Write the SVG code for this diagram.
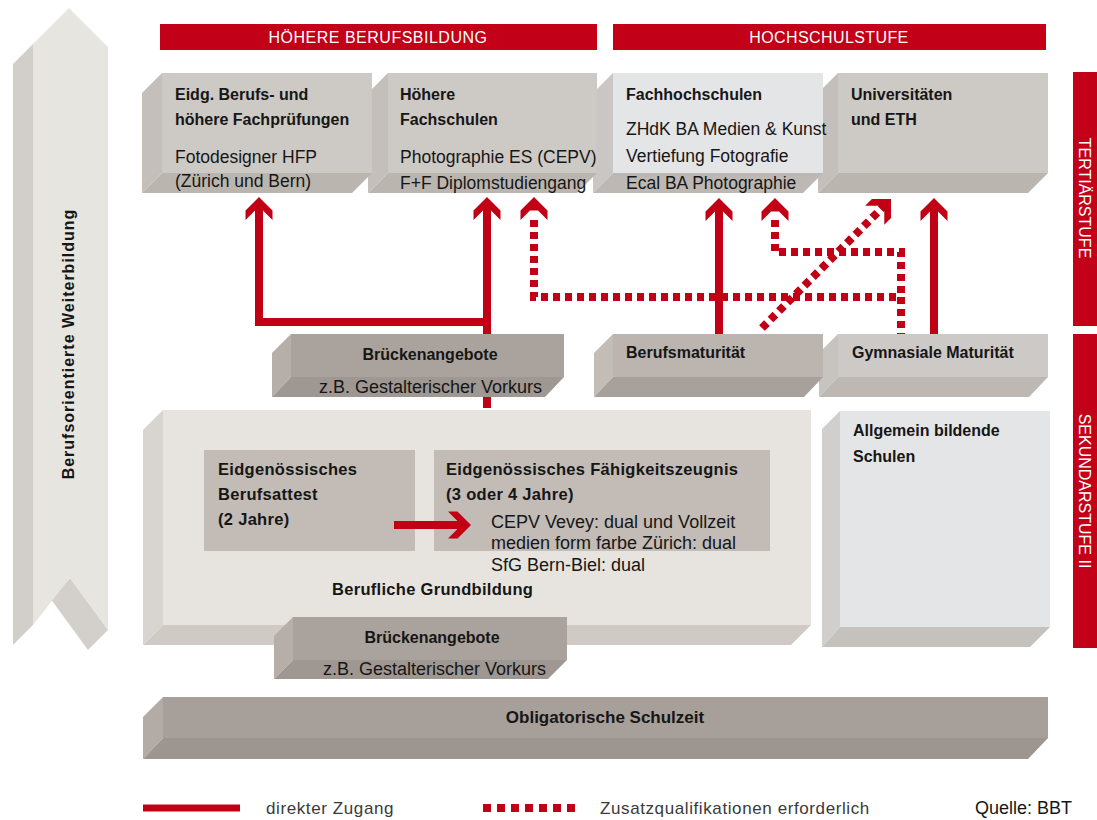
<svg xmlns="http://www.w3.org/2000/svg" xmlns:xlink="http://www.w3.org/1999/xlink" width="1097" height="820" viewBox="0 0 1097 820">
<style>
text{font-family:"Liberation Sans",Arial,sans-serif;fill:#161616}
.h{font-size:16px;font-weight:bold}
.b{font-size:16.5px;font-weight:bold;letter-spacing:0.3px}
.d{font-size:17.5px}
.z{font-size:18px}
.e{font-size:18px}
.w{fill:#ffffff;font-size:16px}
.lg{font-size:17px;fill:#3a3a3a;letter-spacing:0.6px}
.sol{fill:none;stroke:#c10016;stroke-width:8;stroke-linejoin:miter}
.dash{fill:none;stroke:#c10016;stroke-width:8;stroke-dasharray:7 5}
.head{fill:#c10016}
.bar{fill:#c20017}
</style>
<defs>
<path id="ah" d="M0,0 L13.5,13.5 L13.5,23 L4,13.5 L-4,13.5 L-13.5,23 L-13.5,13.5 Z"/>
</defs>
<rect width="1097" height="820" fill="#ffffff"/>

<g id="side-arrow">
<polygon points="50,598 70,578 108,630 88,650" fill="#d3d0cb"/>
<polygon points="33,44 13,64 13,645 33,625" fill="#d2cfca"/>
<polygon points="69,8 108,47 108,630 70,578 33,625 33,44" fill="#e7e5e0"/>
<text transform="translate(74,344) rotate(-90)" text-anchor="middle" style="font-size:16px;font-weight:bold;letter-spacing:1px">Berufsorientierte  Weiterbildung</text>
</g>

<g id="header-hbb">
<rect class="bar" x="160" y="24" width="437" height="26"/>
<text class="w" x="378" y="43" text-anchor="middle" style="letter-spacing:0.5px">HÖHERE BERUFSBILDUNG</text>
</g>
<g id="header-hs">
<rect class="bar" x="613" y="24" width="433" height="26"/>
<text class="w" x="829" y="43" text-anchor="middle" style="letter-spacing:0.4px">HOCHSCHULSTUFE</text>
</g>
<g id="bar-tertiaer">
<rect class="bar" x="1073" y="72" width="24" height="254"/>
<text class="w" transform="translate(1079,198) rotate(90)" text-anchor="middle">TERTIÄRSTUFE</text>
</g>
<g id="bar-sek">
<rect class="bar" x="1073" y="334" width="24" height="314"/>
<text class="w" transform="translate(1079,491) rotate(90)" text-anchor="middle">SEKUNDARSTUFE II</text>
</g>

<g id="connectors">
<path class="sol" d="M259,210 V322 H487"/>
<path class="sol" d="M487,210 V408"/>
<path class="sol" d="M719,210 V336"/>
<path class="sol" d="M934,210 V336"/>
<path class="dash" d="M534,220 V297 H901 V336"/>
<path class="dash" d="M775,220 V252 H901 V297"/>
<path class="dash" d="M762,328 L883,207"/>
<use href="#ah" class="head" transform="translate(259,197)"/>
<use href="#ah" class="head" transform="translate(487,197)"/>
<use href="#ah" class="head" transform="translate(534,197)"/>
<use href="#ah" class="head" transform="translate(719,198)"/>
<use href="#ah" class="head" transform="translate(775,198)"/>
<use href="#ah" class="head" transform="translate(934,198)"/>
<use href="#ah" class="head" transform="translate(891,199) rotate(45)"/>
</g>

<g id="universitaeten">
<polygon points="838,73 818,93 818,193 838,173" fill="#c4bfba"/>
<polygon points="838,173 1048,173 1028,193 818,193" fill="#bbb5b0"/>
<rect x="838" y="73" width="210" height="100" fill="#cdc9c5"/>
<text class="h" x="851" y="100">Universitäten</text>
<text class="h" x="851" y="125">und ETH</text>
</g>
<g id="fachhochschulen">
<polygon points="613,73 593,93 593,193 613,173" fill="#c9c6c3"/>
<polygon points="613,173 823,173 803,193 593,193" fill="#bdb8b3"/>
<rect x="613" y="73" width="210" height="100" fill="#e4e5e7"/>
<text class="h" x="626" y="100">Fachhochschulen</text>
<text class="d" x="626" y="135">ZHdK BA Medien &amp; Kunst</text>
<text class="d" x="626" y="162">Vertiefung Fotografie</text>
<text class="d" x="626" y="189">Ecal BA Photographie</text>
</g>
<g id="hoehere-fachschulen">
<polygon points="388,73 368,93 368,193 388,173" fill="#c4bfba"/>
<polygon points="388,173 597,173 577,193 368,193" fill="#bbb5b0"/>
<rect x="388" y="73" width="209" height="100" fill="#cdc9c5"/>
<text class="h" x="400" y="100">Höhere</text>
<text class="h" x="400" y="125">Fachschulen</text>
<text class="d" x="400" y="163">Photographie ES (CEPV)</text>
<text class="d" x="400" y="189">F+F Diplomstudiengang</text>
</g>
<g id="eidg-pruefungen">
<polygon points="162,73 142,93 142,193 162,173" fill="#c4bfba"/>
<polygon points="162,173 372,173 352,193 142,193" fill="#bbb5b0"/>
<rect x="162" y="73" width="210" height="100" fill="#cdc9c5"/>
<text class="h" x="175" y="100">Eidg. Berufs- und</text>
<text class="h" x="175" y="125">höhere Fachprüfungen</text>
<text class="d" x="175" y="163">Fotodesigner HFP</text>
<text class="d" x="175" y="187">(Zürich und Bern)</text>
</g>

<g id="bruecken-oben">
<polygon points="291,334 272,353 272,397 291,377" fill="#b6aea8"/>
<polygon points="291,377 564,377 545,397 272,397" fill="#9f9791"/>
<rect x="291" y="334" width="273" height="43" fill="#aaa29c"/>
<text class="h" x="430" y="360" text-anchor="middle">Brückenangebote</text>
<text class="z" x="319" y="393">z.B. Gestalterischer Vorkurs</text>
</g>
<g id="gymnasiale-maturitaet">
<polygon points="838,334 819,353 819,397 838,377" fill="#c7c3bf"/>
<polygon points="838,377 1048,377 1029,397 819,397" fill="#bdb8b3"/>
<rect x="838" y="334" width="210" height="43" fill="#cdc9c6"/>
<text class="h" x="852" y="358">Gymnasiale Maturität</text>
</g>
<g id="berufsmaturitaet">
<polygon points="613,334 594,353 594,397 613,377" fill="#c3bdb8"/>
<polygon points="613,377 823,377 804,397 594,397" fill="#a8a09a"/>
<rect x="613" y="334" width="210" height="43" fill="#bbb4af"/>
<text class="h" x="626" y="358">Berufsmaturität</text>
</g>

<g id="allgemein-bildende-schulen">
<polygon points="840,411 822,429 822,647 840,627" fill="#d0cfce"/>
<polygon points="840,627 1050,627 1030,647 822,647" fill="#c5c1bd"/>
<rect x="840" y="411" width="210" height="216" fill="#e4e5e7"/>
<text class="h" x="853" y="436">Allgemein bildende</text>
<text class="h" x="853" y="462">Schulen</text>
</g>
<g id="berufliche-grundbildung">
<polygon points="163,410 143,430 143,645 163,625" fill="#d8d4cf"/>
<polygon points="163,625 811,625 791,645 143,645" fill="#cfcac4"/>
<rect x="163" y="410" width="648" height="215" fill="#e7e4df"/>
<text class="b" x="332" y="595">Berufliche Grundbildung</text>
</g>
<g id="berufsattest">
<rect x="204" y="450" width="211" height="101" fill="#c2bbb6"/>
<text class="b" x="218" y="475">Eidgenössisches</text>
<text class="b" x="218" y="500">Berufsattest</text>
<text class="b" x="218" y="525">(2 Jahre)</text>
</g>
<g id="faehigkeitszeugnis">
<rect x="434" y="450" width="336" height="101" fill="#c2bbb6"/>
<text class="b" x="446" y="475">Eidgenössisches Fähigkeitszeugnis</text>
<text class="b" x="446" y="500">(3 oder 4 Jahre)</text>
<text class="e" x="491" y="528">CEPV Vevey: dual und Vollzeit</text>
<text class="e" x="491" y="549">medien form farbe Zürich: dual</text>
<text class="e" x="491" y="571">SfG Bern-Biel: dual</text>
</g>
<g id="connector-attest-efz">
<path class="sol" d="M394,525 H460"/>
<use href="#ah" class="head" transform="translate(471,525) rotate(90)"/>
</g>
<g id="bruecken-unten">
<polygon points="293,617 274,636 274,679 293,660" fill="#b6aea8"/>
<polygon points="293,660 567,660 548,679 274,679" fill="#9f9791"/>
<rect x="293" y="617" width="274" height="43" fill="#aaa29c"/>
<text class="h" x="432" y="643" text-anchor="middle">Brückenangebote</text>
<text class="z" x="323" y="675">z.B. Gestalterischer Vorkurs</text>
</g>
<g id="obligatorische-schulzeit">
<polygon points="163,697 143,717 143,759 163,738" fill="#b3aca6"/>
<polygon points="163,738 1048,738 1028,759 143,759" fill="#9d958f"/>
<rect x="163" y="697" width="885" height="41" fill="#a79f99"/>
<text x="605" y="723" text-anchor="middle" style="font-size:17px;font-weight:bold">Obligatorische Schulzeit</text>
</g>

<g id="legend">
<path d="M143,808 H240" stroke="#c10016" stroke-width="7" fill="none"/>
<text class="lg" x="266" y="814">direkter Zugang</text>
<path d="M483,808 H575" stroke="#c10016" stroke-width="8" stroke-dasharray="8 6" fill="none"/>
<text class="lg" x="600" y="814">Zusatzqualifikationen erforderlich</text>
<text x="975" y="814" style="font-size:18px">Quelle: BBT</text>
</g>
</svg>
